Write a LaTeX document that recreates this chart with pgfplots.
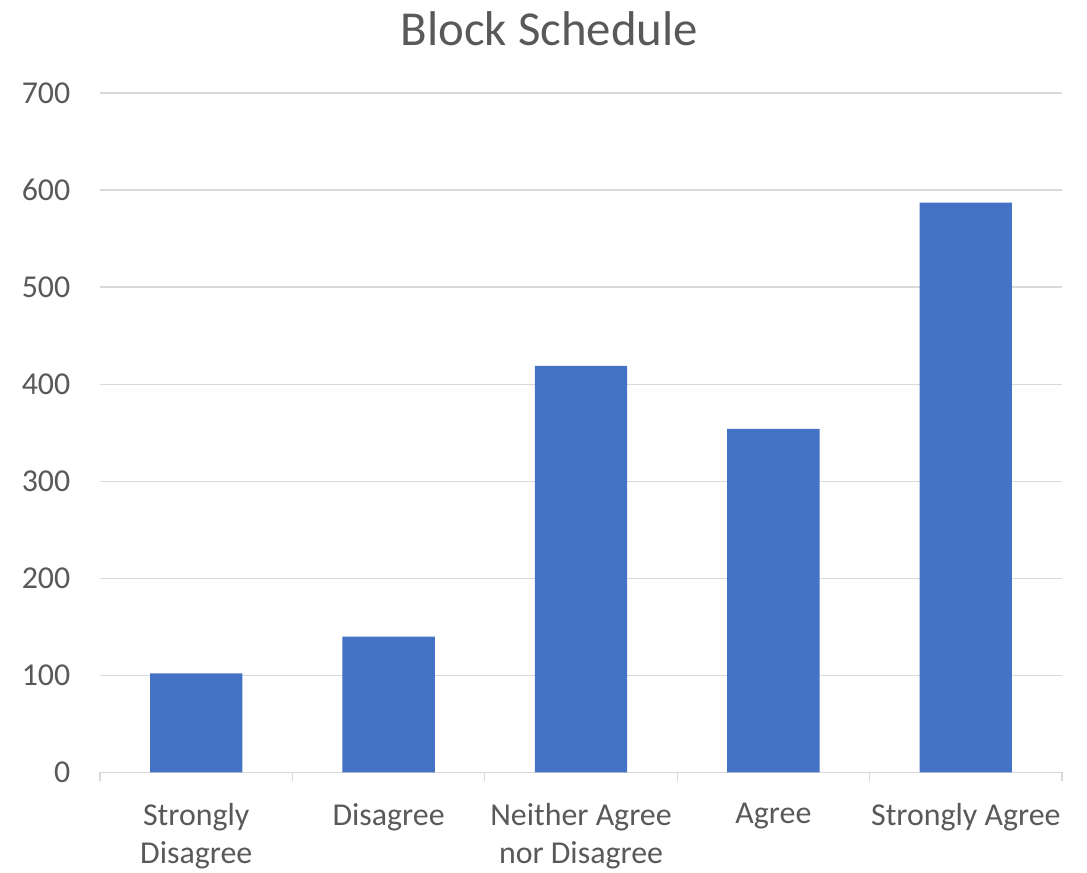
\documentclass[border=0pt]{standalone}
\usepackage{pgfplots}
\pgfplotsset{compat=1.18}
\usepackage{fontspec}
\setmainfont{Carlito}
\definecolor{barblue}{HTML}{4472C4}
\definecolor{gridgray}{HTML}{D9D9D9}
\definecolor{txtgray}{HTML}{595959}
\begin{document}
\begin{tikzpicture}
\begin{axis}[
  name=ax, at={(0,0)}, anchor=south west,
  scale only axis, width=962bp, height=679.5bp,
  xmin=-0.5, xmax=4.5, ymin=0, ymax=700,
  axis x line=bottom, axis y line=left,
  axis line style={-},
  x axis line style={draw=gridgray, line width=1.3bp},
  y axis line style={draw=none},
  xtick={0,1,2,3,4},
  xticklabels={{Strongly\\Disagree},{Disagree},{Neither Agree\\nor Disagree},{Agree},{Strongly Agree}},
  major x tick style={draw=none},
  minor xtick={-0.5,0.5,1.5,2.5,3.5,4.5},
  minor x tick style={draw=gridgray, line width=1.3bp},
  minor tick length=9bp, tick align=outside,
  ytick={0,100,...,700},
  ymajorgrids, grid style={draw=gridgray, line width=1.3bp},
  major y tick style={draw=none},
  /pgf/number format/assume math mode=true,
  ticklabel style={font=\fontsize{32}{38.5}\selectfont, text=txtgray},
  xticklabel style={align=center, anchor=north, yshift=-23bp},
  yticklabel style={anchor=east, xshift=-22bp},
  title={Block Schedule},
  title style={font=\fontsize{49}{59}\selectfont, text=txtgray, at={(rel axis cs:0.467,1.086)}, anchor=center},
  clip=false,
]
\addplot[ybar, bar width=0.48, fill=barblue, draw=none] coordinates {(0,102) (1,140) (2,419) (3,354) (4,587)};
\end{axis}
\path (ax.south west) ++(-100bp,-96.5bp);
\path (ax.north east) ++(25bp,93bp);
\end{tikzpicture}
\end{document}
